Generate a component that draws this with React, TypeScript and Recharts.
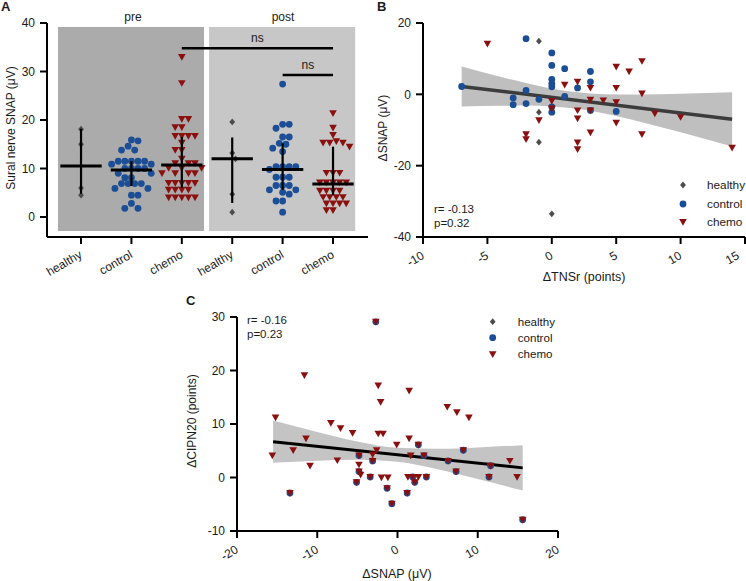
import React from 'react';
import {
  ScatterChart, ComposedChart, Scatter, XAxis, YAxis, ReferenceArea, ReferenceLine,
  Area, Line, Legend,
} from 'recharts';

const FONT = '"Liberation Sans", Arial, Helvetica, sans-serif';
const GRAY = '#4d4d4d';
const BLUE = '#1b4e95';
const RED = '#8a1010';
const TXT = '#1a1a1a';

// ---------------- Panel A data ----------------
const categoriesA = ['healthy', 'control', 'chemo', 'healthy', 'control', 'chemo'];
const preHealthy = [18.1, 15.0, 6.0, 4.5];
const preControl = [15.9, 15.7, 14.6, 13.8, 13.8, 11.5, 11.5, 11.5, 11.5, 11.5, 10.9, 10.9, 10.0, 10.0, 10.0, 10.0, 9.0, 9.0, 8.1, 8.1, 6.9, 6.9, 6.9, 6.9, 5.9, 5.9, 4.5, 4.5, 2.8, 1.8, 1.8];
const preChemo = [33.0, 27.6, 20.2, 20.2, 18.5, 18.5, 16.7, 16.7, 16.7, 16.7, 15.3, 13.8, 13.8, 12.0, 11.1, 11.1, 11.1, 10.1, 10.1, 10.1, 9.0, 9.0, 9.0, 9.0, 7.0, 7.0, 7.0, 7.0, 7.0, 5.6, 5.6, 5.6, 5.6, 4.0, 4.0, 4.0, 4.0, 4.0];
const postHealthy = [19.6, 13.2, 12.0, 4.7, 1.0];
const postControl = [27.4, 19.1, 19.1, 18.3, 16.5, 16.5, 15.2, 15.0, 14.2, 13.5, 10.4, 10.4, 10.4, 10.4, 9.8, 8.2, 8.2, 8.2, 6.5, 6.5, 6.5, 5.6, 5.6, 5.1, 4.7, 3.3, 3.3, 1.0];
const postChemo = [21.4, 18.4, 16.9, 15.6, 15.3, 15.3, 15.3, 14.5, 9.1, 9.1, 9.1, 7.1, 7.1, 7.1, 7.1, 7.1, 5.4, 5.4, 5.4, 5.4, 4.1, 4.1, 4.1, 4.1, 2.8, 2.8, 2.8, 2.8, 1.4, 1.4];
const mediansA = [10.5, 9.7, 10.7, 12.0, 9.8, 6.8];
const q1A = [4.8, 6.4, 6.0, 2.9, 5.6, 4.5];
const q3A = [18.2, 11.5, 16.5, 16.4, 15.2, 14.5];
const sigBars = [
  { from: 2, to: 5, y: 34.8, label: 'ns' },
  { from: 4, to: 5, y: 29.3, label: 'ns' },
];

// ---------------- Panel B data ----------------
const healthyB = [
  { x: -1, y: 14.9 }, { x: -1, y: -5.0 }, { x: -1, y: -13.4 }, { x: 0, y: -33.5 },
];
const controlB = [
  { x: -7, y: 2.2 }, { x: -2, y: 15.6 }, { x: 0, y: 11.6 }, { x: 0, y: 8.1 }, { x: 0, y: 4.2 },
  { x: 0, y: 3.0 }, { x: 0, y: 2.1 }, { x: -2, y: 1.1 }, { x: -3, y: -1.0 }, { x: -3, y: -2.9 },
  { x: -2, y: -2.6 }, { x: -1, y: -1.4 }, { x: 0, y: -3.5 }, { x: 0, y: -5.0 }, { x: 1, y: 7.2 },
  { x: 3, y: 6.4 }, { x: 3, y: 3.5 }, { x: 2, y: 1.8 }, { x: 1, y: -0.6 }, { x: 3, y: -4.5 },
  { x: 5, y: -4.8 },
];
const chemoB = [
  { x: -5, y: 14.2 }, { x: 0, y: -1.9 }, { x: 0, y: -4.0 }, { x: -1, y: -7.3 }, { x: -2, y: -11.2 },
  { x: -2, y: -12.6 }, { x: 5, y: 7.7 }, { x: 6, y: 6.4 }, { x: 7, y: 9.3 }, { x: 1, y: 2.7 },
  { x: 2, y: 3.5 }, { x: 3, y: 1.8 }, { x: 5, y: 1.8 }, { x: 7, y: 0.2 }, { x: 3, y: -1.5 },
  { x: 4, y: -1.7 }, { x: 5, y: -2.2 }, { x: 2, y: -4.5 }, { x: 3, y: -4.5 }, { x: 8, y: -5.4 },
  { x: 10, y: -6.4 }, { x: 2, y: -6.8 }, { x: 5, y: -8.0 }, { x: 3, y: -10.7 }, { x: 7, y: -11.2 },
  { x: 2, y: -13.5 }, { x: 2, y: -15.4 }, { x: 14, y: -15.0 },
];
const lineB = [{ x: -7, y: 2.2 }, { x: 14, y: -7.0 }];
const bandB = [
  { x: -7, lo: -3.4, hi: 7.8 }, { x: -4, lo: -3.2, hi: 4.9 }, { x: -2, lo: -3.15, hi: 3.2 },
  { x: 0, lo: -3.4, hi: 1.6 }, { x: 2, lo: -4.05, hi: 0.55 }, { x: 4, lo: -5.3, hi: 0.05 },
  { x: 7, lo: -7.8, hi: -0.07 }, { x: 10, lo: -10.65, hi: 0.15 }, { x: 14, lo: -14.6, hi: 0.6 },
];

// ---------------- Panel C data ----------------
const controlC = [
  { x: -2.7, y: 29.1 }, { x: -13.4, y: -2.9 }, { x: -4.8, y: 4.1 }, { x: -4.8, y: 1.1 }, { x: -5.1, y: -0.9 },
  { x: -3.1, y: 3.1 }, { x: -3.4, y: 0.1 }, { x: 2.6, y: 6.1 }, { x: 3.3, y: 4.1 }, { x: 6.3, y: 3.1 },
  { x: 8.2, y: 5.1 }, { x: 7.3, y: 1.1 }, { x: 11.6, y: 2.2 }, { x: 11.4, y: 0.1 }, { x: -1.3, y: -2.0 },
  { x: 1.2, y: -2.9 }, { x: 2.15, y: -0.9 }, { x: -0.7, y: -4.9 }, { x: 15.6, y: -7.9 }, { x: 1.9, y: 0.1 },
  { x: 3.6, y: 0.1 },
];
const chemoC = [
  { x: -2.7, y: 29.1 }, { x: -11.6, y: 19.1 }, { x: -2.4, y: 17.2 }, { x: 1.45, y: 16.2 }, { x: -15.2, y: 11.2 },
  { x: -2.1, y: 14.1 }, { x: 6.2, y: 13.2 }, { x: 7.4, y: 12.2 }, { x: 8.9, y: 11.2 }, { x: -8.3, y: 10.2 },
  { x: -7.1, y: 9.2 }, { x: -5.6, y: 8.3 }, { x: -2.4, y: 8.2 }, { x: -1.8, y: 8.2 }, { x: -11.4, y: 7.3 },
  { x: 1.45, y: 7.3 }, { x: -0.1, y: 6.1 }, { x: 2.6, y: 6.1 }, { x: -2.6, y: 5.1 }, { x: -13.0, y: 5.1 },
  { x: -15.6, y: 4.1 }, { x: -3.1, y: 4.3 }, { x: -7.5, y: 3.2 }, { x: -10.9, y: 2.2 }, { x: -4.8, y: 4.1 },
  { x: -4.8, y: 2.4 }, { x: -4.8, y: 1.1 }, { x: -4.6, y: 0.5 }, { x: -5.1, y: -0.9 }, { x: -3.1, y: 3.1 },
  { x: -3.4, y: 0.1 }, { x: -2.0, y: 0.0 }, { x: -1.2, y: 0.0 }, { x: 1.3, y: 0.1 }, { x: 1.9, y: 0.1 },
  { x: 2.6, y: 0.1 }, { x: 3.6, y: 0.1 }, { x: 1.65, y: 4.1 }, { x: 3.3, y: 4.1 }, { x: 6.3, y: 3.1 },
  { x: 8.2, y: 5.1 }, { x: 7.3, y: 1.1 }, { x: 11.6, y: 2.2 }, { x: 14.0, y: 3.1 }, { x: 11.4, y: 0.1 },
  { x: 14.9, y: 0.1 }, { x: -1.3, y: -2.0 }, { x: 1.2, y: -2.9 }, { x: 2.15, y: -0.9 }, { x: -0.7, y: -4.9 },
  { x: 15.6, y: -7.9 }, { x: -13.4, y: -2.9 },
];
const lineC = [{ x: -15.5, y: 6.7 }, { x: 15.6, y: 1.8 }];
const bandC = [
  { x: -15.5, lo: 2.75, hi: 10.65 }, { x: -10, lo: 3.14, hi: 8.52 }, { x: -5, lo: 3.34, hi: 6.74 },
  { x: 0, lo: 2.94, hi: 5.56 }, { x: 5, lo: 1.55, hi: 5.37 }, { x: 10, lo: -0.28, hi: 5.62 },
  { x: 15.6, lo: -2.45, hi: 6.05 },
];

const legendItems = ['healthy', 'control', 'chemo'];
const statsB = ['r= -0.13', 'p=0.32'];
const statsC = ['r= -0.16', 'p=0.23'];

// ---------------- helpers ----------------
// beeswarm layout for a column (pixel scale of panel A's axes)
function swarm(values: number[], center: number) {
  const D = 6.6, SX = 50.4, SY = 4.85;
  const placed: { dx: number; py: number }[] = [];
  const out: { x: number; y: number }[] = [];
  const sorted = [...values].sort((a, b) => b - a);
  let flip = 1;
  for (const v of sorted) {
    const py = v * SY;
    let best = 0;
    outer: for (let k = 0; k < 40; k++) {
      const cands = k === 0 ? [0] : [flip * k * D / 2, -flip * k * D / 2];
      for (const c of cands) {
        if (placed.every((p) => Math.hypot(p.dx - c, p.py - py) >= D - 0.01)) {
          best = c;
          break outer;
        }
      }
    }
    if (best !== 0) flip = -flip;
    placed.push({ dx: best, py });
    out.push({ x: center + best / SX, y: v });
  }
  return out;
}

const DiamondShape = (p: any) => (
  <path d={`M${p.cx},${p.cy - 3.4}L${p.cx + 2.9},${p.cy}L${p.cx},${p.cy + 3.4}L${p.cx - 2.9},${p.cy}Z`} fill={GRAY} />
);
const CircleShape = (p: any) => <circle cx={p.cx} cy={p.cy} r={3.4} fill={BLUE} />;
const TriShape = (p: any) => (
  <path d={`M${p.cx - 3.8},${p.cy - 3}L${p.cx + 3.8},${p.cy - 3}L${p.cx},${p.cy + 3.7}Z`} fill={RED} />
);
const shapeFor: Record<string, any> = { healthy: DiamondShape, control: CircleShape, chemo: TriShape };

const axisProps = {
  axisLine: { stroke: '#000', strokeWidth: 2 },
  tickLine: { stroke: '#000', strokeWidth: 2 },
  tickSize: 7,
};
const yTick = { fontSize: 12, fill: TXT, fontFamily: FONT };

const CatTick = (props: any) => {
  const { x, y, payload } = props;
  const ax = x + 2, ay = y + 11;
  return (
    <text x={ax} y={ay} textAnchor="end" transform={`rotate(-30 ${ax} ${ay})`} fontSize={12} fontFamily={FONT} fill={TXT}>
      {categoriesA[payload.value]}
    </text>
  );
};
const NumTick = (props: any) => {
  const { x, y, payload } = props;
  const ax = x + 2, ay = y + 12;
  return (
    <text x={ax} y={ay} textAnchor="end" transform={`rotate(-30 ${ax} ${ay})`} fontSize={12} fontFamily={FONT} fill={TXT}>
      {payload.value}
    </text>
  );
};

const makeLegend = (mx: number, tx: number, ys: number[], fs: number, w: number, h: number) => () => (
  <svg width={w} height={h}>
    {legendItems.map((n, i) => {
      const S = shapeFor[n];
      return (
        <g key={n}>
          <S cx={mx} cy={ys[i]} />
          <text x={tx} y={ys[i] + fs * 0.36} fontSize={fs} fontFamily={FONT} fill={TXT}>{n}</text>
        </g>
      );
    })}
  </svg>
);

// ---------------- Panels ----------------
function PanelA() {
  const cols = [preHealthy, preControl, preChemo, postHealthy, postControl, postChemo];
  const groups = ['healthy', 'control', 'chemo', 'healthy', 'control', 'chemo'];
  const fills: Record<string, string> = { healthy: GRAY, control: BLUE, chemo: RED };
  return (
    <ScatterChart width={380} height={290} margin={{ top: 23, right: 12, left: 0, bottom: 0 }}>
      <XAxis type="number" dataKey="x" domain={[-0.675, 5.694]} ticks={[0, 1, 2, 3, 4, 5]}
        allowDataOverflow height={53} tick={<CatTick />} tickMargin={2} {...axisProps} />
      <YAxis type="number" dataKey="y" domain={[-4.12, 40]} ticks={[0, 10, 20, 30, 40]}
        allowDataOverflow width={47} tick={yTick} tickMargin={5} {...axisProps} />
      <ReferenceArea x1={-0.456} x2={2.44} y1={-2.89} y2={39.2} fill="#ababab" fillOpacity={1} stroke="none" />
      <ReferenceArea x1={2.54} x2={5.44} y1={-2.89} y2={39.2} fill="#c7c7c7" fillOpacity={1} stroke="none" />
      {cols.map((vals, i) => (
        <Scatter key={i} name={groups[i]} data={swarm(vals, i)} fill={fills[groups[i]]}
          shape={shapeFor[groups[i]]} isAnimationActive={false} />
      ))}
      {mediansA.map((m, i) => (
        <ReferenceLine key={'m' + i} segment={[{ x: i - 0.41, y: m }, { x: i + 0.41, y: m }]}
          stroke="#000" strokeWidth={3} zIndex={700} />
      ))}
      {mediansA.map((_, i) => (
        <ReferenceLine key={'q' + i} segment={[{ x: i, y: q1A[i] }, { x: i, y: q3A[i] }]}
          stroke="#000" strokeWidth={2.2} zIndex={700} />
      ))}
      {sigBars.map((s, i) => (
        <ReferenceLine key={'s' + i} segment={[{ x: s.from, y: s.y }, { x: s.to, y: s.y }]}
          stroke="#000" strokeWidth={2.5} zIndex={700}
          label={{ value: s.label, position: 'top', offset: 6, fontSize: 12, fill: TXT, fontFamily: FONT }} />
      ))}
    </ScatterChart>
  );
}

function PanelB() {
  return (
    <ComposedChart width={376} height={300} margin={{ top: 23, right: 1, left: 0, bottom: 0 }}>
      <XAxis type="number" dataKey="x" domain={[-10, 15]} ticks={[-10, -5, 0, 5, 10, 15]}
        allowDataOverflow height={63} tick={<NumTick />} tickMargin={2} {...axisProps} />
      <YAxis type="number" dataKey="y" domain={[-40, 20]} ticks={[-40, -20, 0, 20]}
        allowDataOverflow width={53} tick={yTick} tickMargin={5} {...axisProps} />
      <Area data={bandB} dataKey={(d: any) => [d.lo, d.hi]} type="monotone" stroke="none"
        fill="#bfbfbf" fillOpacity={1} isAnimationActive={false} legendType="none" />
      <Line data={lineB} dataKey="y" stroke="#3c3c3c" strokeWidth={3.5} dot={false}
        isAnimationActive={false} legendType="none" />
      <Scatter name="healthy" data={healthyB} fill={GRAY} shape={DiamondShape} isAnimationActive={false} />
      <Scatter name="control" data={controlB} fill={BLUE} shape={CircleShape} isAnimationActive={false} />
      <Scatter name="chemo" data={chemoB} fill={RED} shape={TriShape} isAnimationActive={false} />
      <Legend layout="vertical" align="center" verticalAlign="middle"
        wrapperStyle={{ left: 0, top: 0, width: 376, height: 300, pointerEvents: 'none' }}
        content={makeLegend(313, 337, [185, 204, 222], 11.8, 376, 300)} />
    </ComposedChart>
  );
}

function PanelC() {
  return (
    <ComposedChart width={400} height={291} margin={{ top: 27, right: 22, left: 0, bottom: 0 }}>
      <XAxis type="number" dataKey="x" domain={[-20, 20]} ticks={[-20, -10, 0, 10, 20]}
        allowDataOverflow height={50} tick={<NumTick />} tickMargin={2} {...axisProps} />
      <YAxis type="number" dataKey="y" domain={[-10, 30]} ticks={[-10, 0, 10, 20, 30]}
        allowDataOverflow width={57} tick={yTick} tickMargin={5} {...axisProps} />
      <Area data={bandC} dataKey={(d: any) => [d.lo, d.hi]} type="monotone" stroke="none"
        fill="#c4c4c4" fillOpacity={1} isAnimationActive={false} legendType="none" />
      <Line data={lineC} dataKey="y" stroke="#000" strokeWidth={3} dot={false}
        isAnimationActive={false} legendType="none" />
      <Scatter name="healthy" data={[]} fill={GRAY} shape={DiamondShape} isAnimationActive={false} />
      <Scatter name="control" data={controlC} fill={BLUE} shape={CircleShape} isAnimationActive={false} />
      <Scatter name="chemo" data={chemoC} fill={RED} shape={TriShape} isAnimationActive={false} />
      <Legend layout="vertical" align="center" verticalAlign="middle"
        wrapperStyle={{ left: 0, top: 0, width: 400, height: 291, pointerEvents: 'none' }}
        content={makeLegend(312.7, 337.7, [31.7, 47.7, 64.3], 11.6, 400, 291)} />
    </ComposedChart>
  );
}

export default function App() {
  const t = { fontFamily: FONT, fill: TXT };
  return (
    <div style={{ position: 'absolute', left: 0, top: 0, width: 746, height: 581, background: '#fff', overflow: 'hidden' }}>
      <div style={{ position: 'absolute', left: 0, top: 0 }}><PanelA /></div>
      <div style={{ position: 'absolute', left: 370, top: 0 }}><PanelB /></div>
      <div style={{ position: 'absolute', left: 180, top: 290 }}><PanelC /></div>
      <svg width={746} height={581} style={{ position: 'absolute', left: 0, top: 0, pointerEvents: 'none' }}>
        <text x={1} y={10.5} fontSize={13} fontWeight="bold" {...t}>A</text>
        <text x={377} y={10.5} fontSize={13} fontWeight="bold" {...t}>B</text>
        <text x={186} y={305} fontSize={13} fontWeight="bold" {...t}>C</text>
        <text x={133} y={21} fontSize={12} textAnchor="middle" {...t}>pre</text>
        <text x={283} y={21} fontSize={12} textAnchor="middle" {...t}>post</text>
        <text x={15} y={128} fontSize={12} textAnchor="middle" transform="rotate(-90 15 128)" {...t}>Sural nerve SNAP (μV)</text>
        <text x={387} y={128} fontSize={12} textAnchor="middle" transform="rotate(-90 387 128)" {...t}>ΔSNAP (μV)</text>
        <text x={584} y={281} fontSize={12.5} textAnchor="middle" {...t}>ΔTNSr (points)</text>
        <text x={196} y={421} fontSize={12} textAnchor="middle" transform="rotate(-90 196 421)" {...t}>ΔCIPN20 (points)</text>
        <text x={397} y={578} fontSize={12.5} textAnchor="middle" {...t}>ΔSNAP (μV)</text>
        <text x={434} y={213} fontSize={11.5} {...t}>{statsB[0]}</text>
        <text x={434} y={226.5} fontSize={11.5} {...t}>{statsB[1]}</text>
        <text x={247} y={324} fontSize={11.5} {...t}>{statsC[0]}</text>
        <text x={247} y={337.5} fontSize={11.5} {...t}>{statsC[1]}</text>
      </svg>
    </div>
  );
}
